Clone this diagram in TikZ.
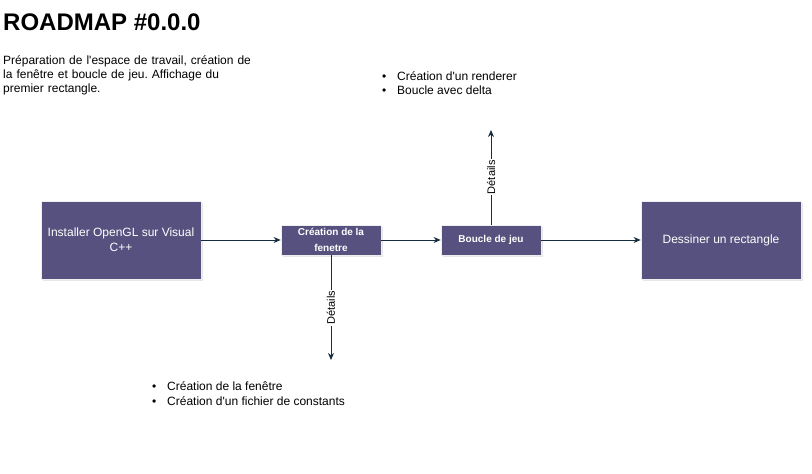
\documentclass[tikz,border=0pt]{standalone}
\usepackage{fontspec}
\setmainfont{Liberation Sans}
\usepackage{tikz}
\usetikzlibrary{positioning,arrows.meta,shadows}

\definecolor{boxfill}{HTML}{56517E}
\definecolor{boxline}{HTML}{EEEEEE}
\definecolor{edge}{HTML}{182E3E}

\tikzset{
  bigbox/.style={draw=boxline, fill=boxfill, text=white, line width=0.8pt,
    minimum width=160pt, minimum height=78pt, align=center,
    font=\fontsize{12}{15}\selectfont,
    drop shadow={shadow xshift=2pt, shadow yshift=-2pt, opacity=0.2}},
  smallbox/.style={draw=boxline, fill=boxfill, text=white, line width=0.8pt,
    minimum width=100pt, minimum height=30pt, align=center,
    font=\bfseries\fontsize{10}{16}\selectfont,
    drop shadow={shadow xshift=2pt, shadow yshift=-2pt, opacity=0.2}},
  link/.style={draw=edge, line width=0.8pt, -{Stealth[length=7pt,width=6pt]}},
  detail/.style={midway, rotate=90, fill=white, inner sep=1pt,
    font=\fontsize{11}{13}\selectfont},
  listline/.style={anchor=west, inner sep=0pt, font=\fontsize{12}{14}\selectfont}
}
\newcommand{\puce}{\makebox[15pt][l]{\textbullet}}
\newcommand{\apos}{\textquotesingle}

\begin{document}
\frenchspacing
\begin{tikzpicture}[x=1pt, y=1pt]
\useasboundingbox (0,0) rectangle (812,-474);
% Title and description
\node[anchor=west, inner sep=0pt, font=\bfseries\fontsize{24}{28}\selectfont] (title) at (3,-22) {ROADMAP \#0.0.0};
\node[anchor=north west, inner sep=0pt, text width=260pt, align=left,
  font=\fontsize{12}{14}\selectfont] (intro) at (3,-55)
  {Préparation de l\apos espace de travail, création de\\la fenêtre et boucle de jeu. Affichage du\\premier rectangle.};
% Steps
\node[bigbox] (opengl) at (121,-240) {Installer OpenGL sur Visual\\C++};
\node[smallbox] (fenetre) at (331,-240) {Création de la\\fenetre};
\node[smallbox] (boucle) at (491,-240) {Boucle de jeu};
\node[bigbox] (rect) at (721,-240) {Dessiner un rectangle};
% Details
\coordinate (fenetreend) at (331,-360);
\coordinate (boucleend) at (491,-130);
\node[listline] (renderer) at (382,-76) {\puce Création d\apos un renderer};
\node[listline] (delta) at (382,-90) {\puce Boucle avec delta};
\node[listline] (creation) at (152,-386) {\puce Création de la fenêtre};
\node[listline] (constants) at (152,-401) {\puce Création d\apos un fichier de constants};
% Connectors
\draw[link] (opengl) -- (fenetre);
\draw[link] (fenetre) -- (boucle);
\draw[link] (boucle) -- (rect);
\draw[link] (fenetre.south) -- (fenetreend) node[detail] {Détails};
\draw[link] (boucle.north) -- (boucleend) node[detail] {Détails};
\end{tikzpicture}
\end{document}
